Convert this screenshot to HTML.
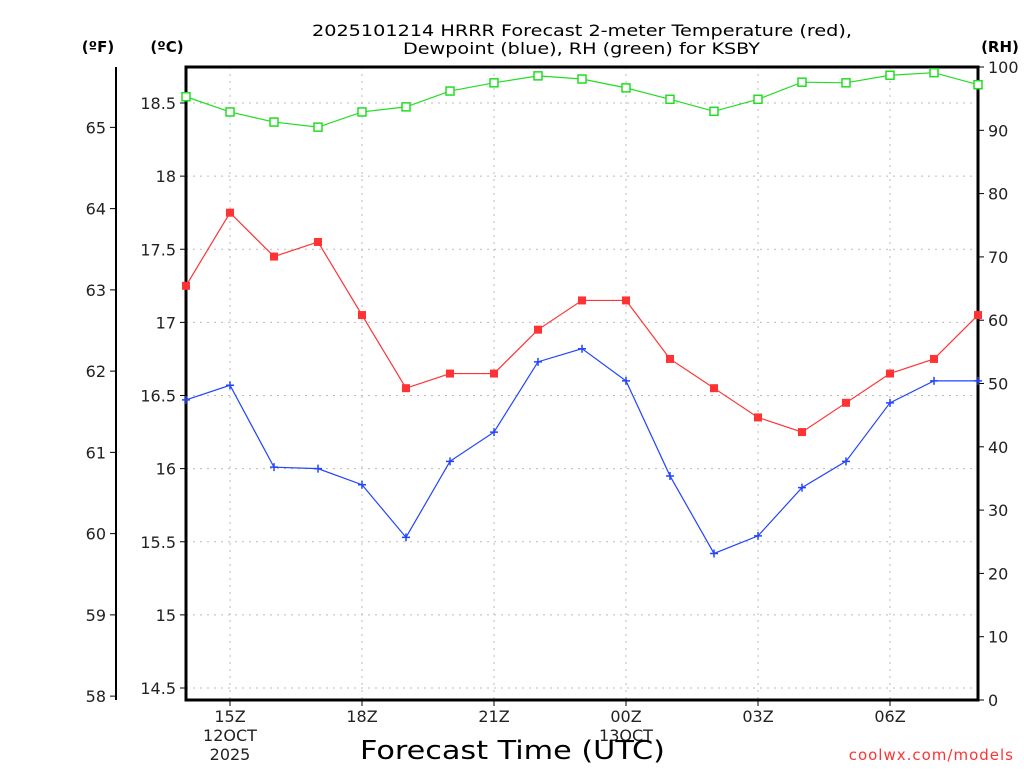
<!DOCTYPE html>
<html><head><meta charset="utf-8"><style>
body{margin:0;background:#fff;}
svg text{font-family:"DejaVu Sans","Liberation Sans",sans-serif;}
</style></head><body>
<svg id="chart" width="1024" height="768" xmlns="http://www.w3.org/2000/svg">
<g id="grid"></g>
<g id="axes"></g>
<g id="series"></g>
<text x="312" y="36" font-size="16" textLength="540" lengthAdjust="spacingAndGlyphs">2025101214 HRRR Forecast 2-meter Temperature (red),</text>
<text x="403" y="54" font-size="16" textLength="357" lengthAdjust="spacingAndGlyphs">Dewpoint (blue), RH (green) for KSBY</text>
<text x="98" y="52" text-anchor="middle" font-size="15" font-weight="bold">(ºF)</text>
<text x="167" y="52" text-anchor="middle" font-size="15" font-weight="bold">(ºC)</text>
<text x="1000" y="52" text-anchor="middle" font-size="15" font-weight="bold">(RH)</text>
<text x="360" y="759" font-size="26" textLength="305" lengthAdjust="spacingAndGlyphs">Forecast Time (UTC)</text>
<text x="1014" y="760" text-anchor="end" font-size="15" fill="#ff3333" letter-spacing="1">coolwx.com/models</text>
</svg>
<script>
const hours=[14,15,16,17,18,19,20,21,22,23,24,25,26,27,28,29,30,31,32];
const tempC=[17.25,17.75,17.45,17.55,17.05,16.55,16.65,16.65,16.95,17.15,17.15,16.75,16.55,16.35,16.25,16.45,16.65,16.75,17.05];
const dewC=[16.47,16.57,16.01,16.0,15.89,15.53,16.05,16.25,16.73,16.82,16.6,15.95,15.42,15.54,15.87,16.05,16.45,16.6,16.6];
const rh=[95.3,92.9,91.3,90.5,92.9,93.7,96.2,97.5,98.6,98.1,96.7,94.9,93.0,94.9,97.6,97.5,98.7,99.1,97.2];
const cTicks=[14.5,15,15.5,16,16.5,17,17.5,18,18.5];
const fTicks=[58,59,60,61,62,63,64,65];
const rhTicks=[0,10,20,30,40,50,60,70,80,90,100];
const xTicks=[15,18,21,24,27,30];
const xLabels=["15Z","18Z","21Z","00Z","03Z","06Z"];
const xSub=["12OCT","","","13OCT","",""];
const xSub2=["2025","","","","",""];

const L=186,R=978,T=67,B=700;
const X=h=>L+(h-14)*44;
const YC=c=>688-(c-14.5)*146.25;
const YF=f=>YC((f-32)*5/9);
const YR=v=>B-v*(B-T)/100;
const NS="http://www.w3.org/2000/svg";
function mk(tag,attrs,parent,txt){const e=document.createElementNS(NS,tag);for(const k in attrs)e.setAttribute(k,attrs[k]);if(txt!==undefined)e.textContent=txt;parent.appendChild(e);return e;}
const grid=document.getElementById('grid'),axes=document.getElementById('axes'),series=document.getElementById('series');

cTicks.forEach(c=>{const y=YC(c);
 const g=mk('line',{x1:L,x2:R,y1:y,y2:y,stroke:'#bbb','stroke-dasharray':'2,5'},grid);
 
 
 mk('line',{x1:L-6,x2:L,y1:y,y2:y,stroke:'#000'},axes);
 const t=mk('text',{x:L-10,y:y+6,'text-anchor':'end','font-size':16,fill:'#222'},axes,String(c));
 
 
});
xTicks.forEach((h,i)=>{const x=X(h);
 const g=mk('line',{x1:x,x2:x,y1:T,y2:B,stroke:'#bbb','stroke-dasharray':'2,5'},grid);
 
 
 mk('line',{x1:x,x2:x,y1:B,y2:B+6,stroke:'#000'},axes);
 const t=mk('text',{x:x,y:B+22,'text-anchor':'middle','font-size':16,fill:'#222'},axes,xLabels[i]);
 
 
 if(xSub[i])mk('text',{x:x,y:B+41,'text-anchor':'middle','font-size':16,fill:'#222'},axes,xSub[i]);
 if(xSub2[i])mk('text',{x:x,y:B+60,'text-anchor':'middle','font-size':16,fill:'#222'},axes,xSub2[i]);
});
rhTicks.forEach(v=>{const y=YR(v);
 mk('line',{x1:R,x2:R+6,y1:y,y2:y,stroke:'#000'},axes);
 const t=mk('text',{x:R+10,y:y+6,'font-size':16,fill:'#222'},axes,String(v));
 
 
});
fTicks.forEach(f=>{const y=YF(f);
 mk('line',{x1:110,x2:116,y1:y,y2:y,stroke:'#000'},axes);
 const t=mk('text',{x:106,y:y+6,'text-anchor':'end','font-size':16,fill:'#222'},axes,String(f));
 
 
});
mk('line',{x1:116,x2:116,y1:T,y2:B,stroke:'#000','stroke-width':2},axes);
const frame=mk('rect',{x:L,y:T,width:R-L,height:B-T,fill:'none',stroke:'#000','stroke-width':3},axes);



function line(vals,yf,color,name){
 const pts=vals.map((v,i)=>X(hours[i])+','+yf(v)).join(' ');
 const p=mk('polyline',{points:pts,fill:'none',stroke:color,'stroke-width':1.2},series);
 
 
}
line(rh,YR,'#22dd22','rh');
line(tempC,YC,'#ff3333','temperature');
line(dewC,YC,'#2244ff','dewpoint');
rh.forEach((v,i)=>{const m=mk('rect',{x:X(hours[i])-4,y:YR(v)-4,width:8,height:8,fill:'#fff',stroke:'#22dd22','stroke-width':1.5},series);
 
 });
tempC.forEach((v,i)=>{const m=mk('rect',{x:X(hours[i])-4,y:YC(v)-4,width:8,height:8,fill:'#ff3333'},series);
 
 });
dewC.forEach((v,i)=>{const x=X(hours[i]),y=YC(v);
 const m=mk('path',{d:`M${x-4},${y}H${x+4}M${x},${y-4}V${y+4}`,stroke:'#2244ff','stroke-width':1.5},series);
 
 });
</script>
</body></html>
